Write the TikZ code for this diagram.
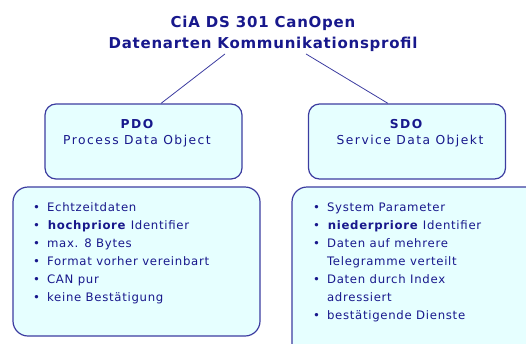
\documentclass[tikz,border=0pt]{standalone}
\usepackage{fontspec}
\setmainfont{DejaVu Sans}[LetterSpace=12]
\newfontfamily\titlefont{DejaVu Sans}[LetterSpace=5]
\newfontfamily\listfont{DejaVu Sans}[LetterSpace=6]
\definecolor{ink}{RGB}{24,24,140}
\definecolor{edge}{RGB}{60,60,160}
\definecolor{boxfill}{RGB}{230,255,255}
\tikzset{
  headbox/.style={draw=edge, fill=boxfill, line width=1.2pt, rounded corners=11pt,
    minimum width=197pt, minimum height=75pt, inner sep=0pt},
  listbox/.style={draw=edge, fill=boxfill, line width=1.2pt, rounded corners=15pt, inner sep=0pt},
  conn/.style={draw=edge, line width=0.8pt},
  txt/.style={text=ink, inner sep=0pt, font=\fontsize{12.3}{14}\selectfont},
  items/.style={text=ink, inner sep=0pt, anchor=north west, align=left,
    font=\listfont\fontsize{11.7}{18}\selectfont}
}
\begin{document}
\begin{tikzpicture}[x=1pt,y=-1pt]
\useasboundingbox (0,0) rectangle (526,343);
\clip (0,0) rectangle (526,343);
\node[text=ink, align=center, font=\titlefont\bfseries\fontsize{15}{21}\selectfont, inner sep=0pt] (title) at (263,34)
  {CiA DS 301 CanOpen\\Datenarten Kommunikationsprofil};
\node[headbox] (pdo) at (143.5,141.5) {};
\node[headbox] (sdo) at (407,141.5) {};
\node[txt] (pdoA) at (137,124) {\bfseries PDO};
\node[txt] (pdoB) at (137,141) {Process Data Object};
\node[txt] (sdoA) at (406,124) {\bfseries SDO};
\node[txt] (sdoB) at (410,141) {Service Data Objekt};
\node[listbox, minimum width=247pt, minimum height=149pt] (pdolist) at (136.5,261.5) {};
\node[listbox, minimum width=250pt, minimum height=180pt] (sdolist) at (417,277) {};
\node[items] (pdoitems) at (33,202) {%
\textbullet\hspace{7pt}Echtzeitdaten\\
\textbullet\hspace{7pt}\textbf{hochpriore} Identifier\\
\textbullet\hspace{7pt}max. 8 Bytes\\
\textbullet\hspace{7pt}Format vorher vereinbart\\
\textbullet\hspace{7pt}CAN pur\\
\textbullet\hspace{7pt}keine Bestätigung};
\node[items] (sdoitems) at (313,203) {%
\textbullet\hspace{7pt}System Parameter\\
\textbullet\hspace{7pt}\textbf{niederpriore} Identifier\\
\textbullet\hspace{7pt}Daten auf mehrere\\
\phantom{\textbullet}\hspace{7pt}Telegramme verteilt\\
\textbullet\hspace{7pt}Daten durch Index\\
\phantom{\textbullet}\hspace{7pt}adressiert\\
\textbullet\hspace{7pt}bestätigende Dienste};
\draw[conn] ([xshift=-38pt,yshift=-2pt]title.south) -- ([xshift=17.5pt]pdo.north);
\draw[conn] ([xshift=43pt,yshift=-2pt]title.south) -- ([xshift=-19pt]sdo.north);
\end{tikzpicture}
\end{document}
